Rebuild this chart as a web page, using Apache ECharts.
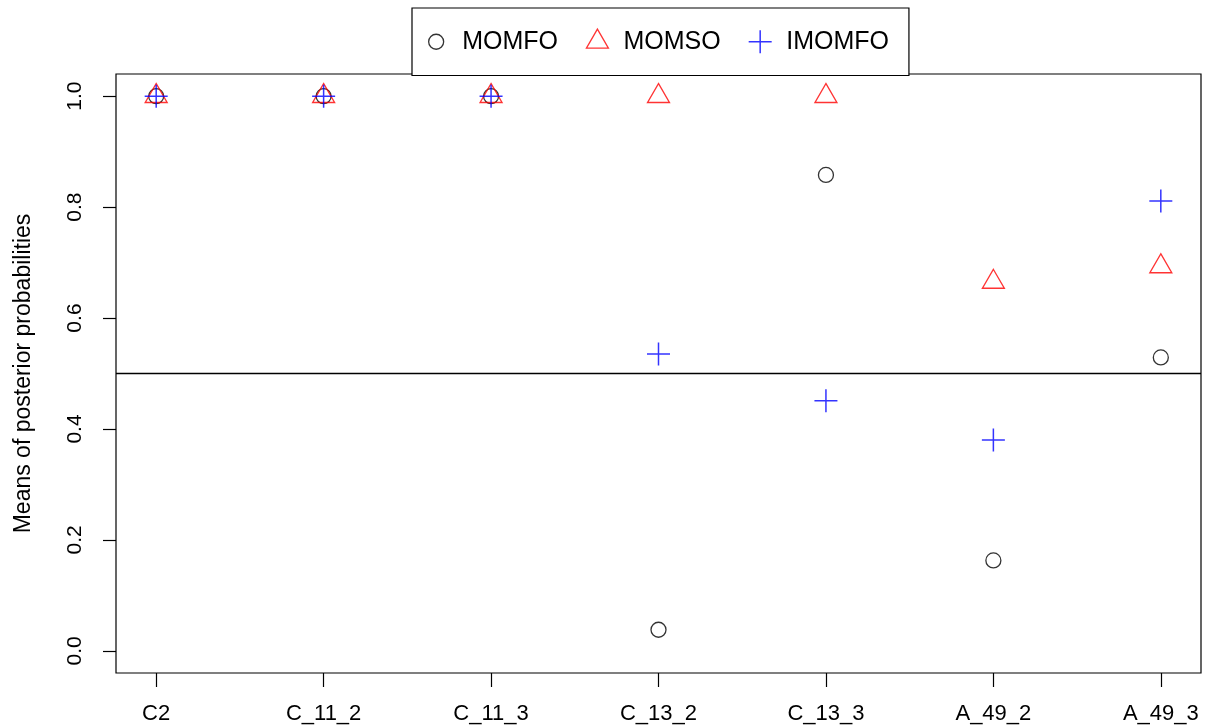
<!DOCTYPE html>
<html>
<head>
<meta charset="utf-8">
<script src="https://cdn.jsdelivr.net/npm/echarts@6/dist/echarts.min.js"></script>
<style>
  html, body { margin: 0; padding: 0; background: #fff; }
  #chart { width: 1205px; height: 728px; }
</style>
</head>
<body>
<div id="chart"></div>
<script>
// ---- data ----
const categories = ['C2', 'C_11_2', 'C_11_3', 'C_13_2', 'C_13_3', 'A_49_2', 'A_49_3'];
const momfo  = [1.0, 1.0, 1.0, 0.038, 0.858, 0.163, 0.529];
const momso  = [1.0, 1.0, 1.0, 1.0, 1.0, 0.665, 0.693];
const imomfo = [1.0, 1.0, 1.0, 0.535, 0.451, 0.380, 0.811];
const yTicks = [0, 0.2, 0.4, 0.6, 0.8, 1.0];
const xTicks = [1, 2, 3, 4, 5, 6, 7];
const seriesNames = ['MOMFO', 'MOMSO', 'IMOMFO'];
const refLine = 0.5;

const FONT = 'Liberation Sans';

function pairs(vals) { return vals.map((v, i) => [i + 1, v]); }

// symbols (series)
const triPath = 'path://M-11,-13M11,13M0,-12.7L11,6.3L-11,6.3Z';
const plusPath = 'path://M-11.5,-11.5M11.5,11.5M0,-11.5L0,11.5M-11.5,0L11.5,0';
// legend icons (padded to 42x26 box so shapes keep their size)
const legCircle = 'path://M-21,-13M21,13M7.5,0A7.5,7.5 0 1 1 -7.5,0A7.5,7.5 0 1 1 7.5,0Z';
const legTri = 'path://M-21,-13M21,13M0,-12.7L11,6.3L-11,6.3Z';
const legPlus = 'path://M-21,-13M21,13M0,-11.5L0,11.5M-11.5,0L11.5,0';

const chart = echarts.init(document.getElementById('chart'), null, { renderer: 'canvas' });

const option = {
  animation: false,
  backgroundColor: '#fff',
  grid: {
    left: 116, right: 4, top: 74, bottom: 55,
    show: true, borderColor: '#000', borderWidth: 1.2, backgroundColor: 'transparent'
  },
  legend: {
    left: 412, top: 8,
    orient: 'horizontal',
    itemWidth: 42, itemHeight: 26, itemGap: 17.8,
    padding: [20, 20, 20, 2.5],
    borderColor: '#000', borderWidth: 1.2, backgroundColor: '#fff',
    selectedMode: false,
    textStyle: { fontSize: 25, color: '#000', fontFamily: FONT },
    data: [
      { name: seriesNames[0], icon: legCircle, itemStyle: { color: 'transparent', borderColor: '#000', borderWidth: 1.3 } },
      { name: seriesNames[1], icon: legTri, itemStyle: { color: 'transparent', borderColor: '#ff0000', borderWidth: 1.3 } },
      { name: seriesNames[2], icon: legPlus, itemStyle: { color: 'transparent', borderColor: '#0000ff', borderWidth: 1.5 } }
    ]
  },
  xAxis: {
    type: 'value', min: 0.76, max: 7.24,
    axisLine: { show: false, onZero: false },
    splitLine: { show: false },
    axisTick: { show: true, customValues: xTicks, length: 14, inside: false, lineStyle: { color: '#000', width: 1.2 } },
    axisLabel: {
      customValues: xTicks, margin: 30,
      formatter: v => categories[Math.round(v) - 1] || '',
      fontSize: 22, color: '#000', fontFamily: FONT
    }
  },
  yAxis: {
    type: 'value', min: -0.04, max: 1.04,
    name: 'Means of posterior probabilities',
    nameLocation: 'middle', nameGap: 81,
    nameTextStyle: { fontSize: 23, color: '#000', fontFamily: FONT },
    axisLine: { show: false, onZero: false },
    splitLine: { show: false },
    axisTick: { show: true, customValues: yTicks, length: 13, inside: false, lineStyle: { color: '#000', width: 1.2 } },
    axisLabel: {
      customValues: yTicks, margin: 30, rotate: 90,
      formatter: v => Number(v).toFixed(1),
      fontSize: 21, color: '#000', fontFamily: FONT
    }
  },
  series: [
    {
      name: seriesNames[0], type: 'scatter', data: pairs(momfo), clip: false,
      symbol: 'circle', symbolSize: 15,
      itemStyle: { color: 'transparent', borderColor: '#000', borderWidth: 1.3 },
      z: 3,
      markLine: {
        silent: true, symbol: 'none', label: { show: false },
        lineStyle: { color: '#000', width: 1.3, type: 'solid' },
        data: [{ yAxis: refLine }]
      }
    },
    {
      name: seriesNames[1], type: 'scatter', data: pairs(momso), clip: false,
      symbol: triPath, symbolSize: [22, 26],
      itemStyle: { color: 'transparent', borderColor: '#ff0000', borderWidth: 1.3 },
      z: 4
    },
    {
      name: seriesNames[2], type: 'scatter', data: pairs(imomfo), clip: false,
      symbol: plusPath, symbolSize: 23,
      itemStyle: { color: 'transparent', borderColor: '#0000ff', borderWidth: 1.5 },
      z: 5
    }
  ]
};

chart.setOption(option);
</script>
</body>
</html>
